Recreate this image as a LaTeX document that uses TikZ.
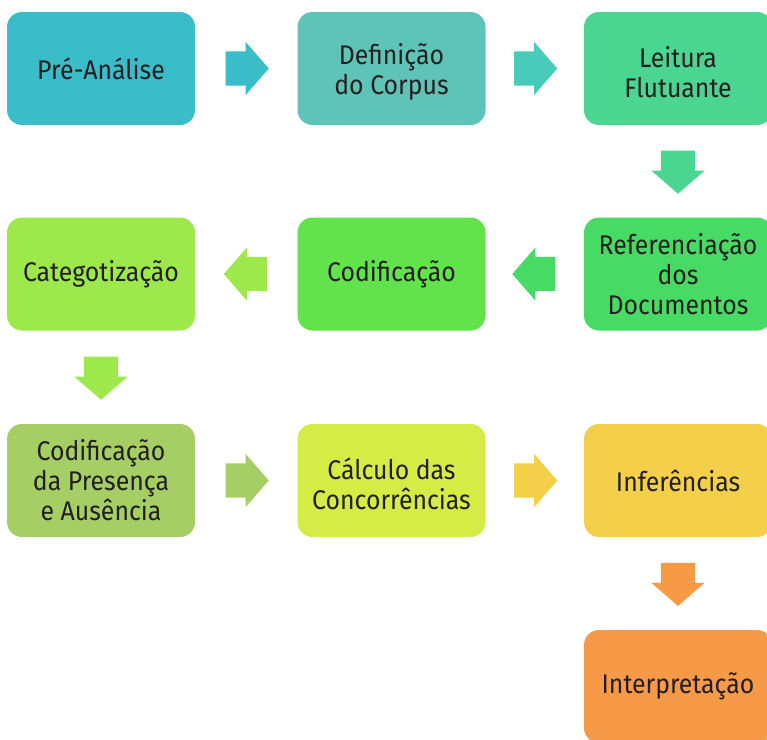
\documentclass[tikz,border=0pt]{standalone}
\usepackage{fontspec}
\setmainfont[FakeStretch=0.92]{Fira Sans}
\usetikzlibrary{shapes.arrows,calc}

% colours of the stages
\definecolor{textcol}{HTML}{231F20}
\definecolor{cPre}{HTML}{3BBCC9}
\definecolor{cCorpus}{HTML}{5EC4B7}
\definecolor{cCorpusA}{HTML}{48CCB9}
\definecolor{cLeitura}{HTML}{4AD690}
\definecolor{cRef}{HTML}{47DB66}
\definecolor{cCod}{HTML}{62E34B}
\definecolor{cCat}{HTML}{9DE84B}
\definecolor{cPres}{HTML}{A5CF65}
\definecolor{cCalc}{HTML}{D5EB46}
\definecolor{cInf}{HTML}{F4D04A}
\definecolor{cInt}{HTML}{F79A48}

\begin{document}
\begin{tikzpicture}[x=1pt, y=-1pt,
  etapa/.style={rounded corners=15pt, minimum width=188pt, minimum height=113pt,
    inner sep=0pt, align=center, text=textcol, font=\fontsize{27}{30}\selectfont},
  duas/.style={text height=58pt},
  seta/.style={single arrow, minimum height=43pt, inner xsep=0pt, inner ysep=17pt,
    single arrow head extend=9.5pt, single arrow tip angle=98}]
  % Parameters
  \def\ca{101}   % column 1 x
  \def\cb{391.5} % column 2 x
  \def\cc{678}   % column 3 x
  \def\ra{68.5}  % row 1 y
  \def\rb{274}   % row 2 y
  \def\rc{480.5} % row 3 y
  \def\rd{686.5} % row 4 y

  \useasboundingbox (0,0) rectangle (767,739);
  \clip (0,0) rectangle (767,739);

  % stages
  \node[etapa, fill=cPre]       (preanalise)    at (\ca,\ra) {Pré-Análise};
  \node[etapa, duas, fill=cCorpus]  (corpus)    at (\cb,\ra) {Definição\\do Corpus};
  \node[etapa, duas, fill=cLeitura] (leitura)   at (\cc,\ra) {Leitura\\Flutuante};
  \node[etapa, fill=cRef]       (referencia)    at (\cc,\rb) {Referenciação\\dos\\Documentos};
  \node[etapa, fill=cCod]       (codificacao)   at (\cb,\rb) {Codificação};
  \node[etapa, fill=cCat]       (categorizacao) at (\ca,\rb) {Categotização};
  \node[etapa, fill=cPres]      (presenca)      at (\ca,\rc) {Codificação\\da Presença\\e Ausência};
  \node[etapa, duas, fill=cCalc]    (calculo)   at (\cb,\rc) {Cálculo das\\Concorrências};
  \node[etapa, fill=cInf]       (inferencias)   at (\cc,\rc) {Inferências};
  \node[etapa, fill=cInt]       (interpretacao) at (\cc,\rd) {Interpretação};

  % block arrows between the stages
  \foreach \from/\to/\ang/\col/\name in {
      preanalise/corpus/0/cPre/s1,
      corpus/leitura/0/cCorpusA/s2,
      leitura/referencia/-90/cLeitura/s3,
      referencia/codificacao/180/cRef/s4,
      codificacao/categorizacao/180/cCat/s5,
      categorizacao/presenca/-90/cCat/s6,
      presenca/calculo/0/cPres/s7,
      calculo/inferencias/0/cInf/s8,
      inferencias/interpretacao/-90/cInt/s9}
    {\node[seta, fill=\col, rotate=\ang, xshift=-6.5pt] (\name) at ($(\from)!0.5!(\to)$) {};}

\end{tikzpicture}
\end{document}
